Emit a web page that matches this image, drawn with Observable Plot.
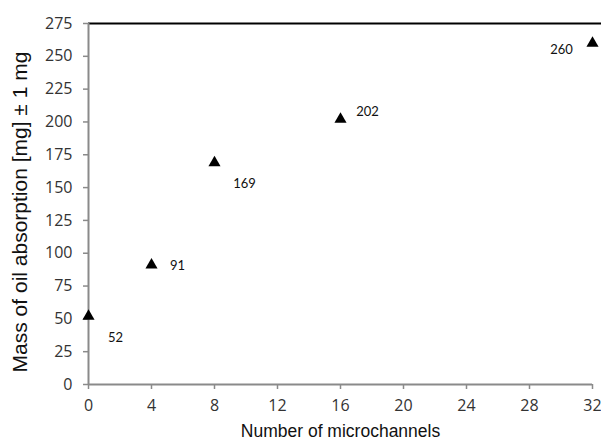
<!DOCTYPE html>
<html><head><meta charset="utf-8">
<script src="https://cdn.jsdelivr.net/npm/d3@7"></script>
<script src="https://cdn.jsdelivr.net/npm/@observablehq/plot@0.6"></script>
<style>
body{margin:0;background:#fff}
</style>
</head><body><div id="chart"></div>
<script>
const channels = [0, 4, 8, 16, 32];
const mass = [52, 91, 169, 202, 260];
const labelDx = [27, 26, 30, 27, -31];
const labelDy = [22, 1, 21, -8, 7];
const xTicks = [0, 4, 8, 12, 16, 20, 24, 28, 32];
const yTicks = [0, 25, 50, 75, 100, 125, 150, 175, 200, 225, 250, 275];

const data = channels.map((c, i) => ({x: c, y: mass[i], dx: labelDx[i], dy: labelDy[i]}));
const axisColor = "#8a8a8a";
const tickFont = "Open Sans, sans-serif";

const textMarks = data.map(d => Plot.text([d], {x: "x", y: "y", text: d => String(d.y), dx: d.dx, dy: d.dy, fontSize: 13, fill: "#111", fontFamily: "Lato, sans-serif"}));

const chart = Plot.plot({
  width: 601, height: 442,
  marginLeft: 88, marginRight: 0, marginTop: 23, marginBottom: 58,
  style: {fontFamily: tickFont, fontSize: "16px", background: "#fff", overflow: "visible"},
  x: {domain: [0, 32], range: [88, 592]},
  y: {domain: [0, 275]},
  marks: [
    Plot.ruleY([275], {stroke: "#000", strokeWidth: 2}),
    Plot.axisY({ticks: yTicks, tickSize: 5, tickPadding: 11, stroke: axisColor, strokeWidth: 1.5, fill: "#333", fontSize: 16, fontFamily: tickFont, label: null}),
    Plot.axisX({ticks: xTicks, tickSize: 5, tickPadding: 10, stroke: axisColor, strokeWidth: 1.5, fill: "#333", fontSize: 16, fontFamily: tickFont, label: null}),
    Plot.ruleX([0], {stroke: axisColor, strokeWidth: 2}),
    Plot.ruleY([0], {stroke: axisColor, strokeWidth: 2, x1: 0, x2: 32}),
    Plot.dot(data, {x: "x", y: "y", symbol: "triangle", r: 4.5, fill: "#000", stroke: "none"}),
    ...textMarks,
    Plot.text(["Number of microchannels"], {frameAnchor: "bottom", dy: 52, fontSize: 17.5, fill: "#111", fontFamily: "Liberation Sans, Arial, sans-serif", x: 16}),
    Plot.text(["Mass of oil absorption [mg] \u00b1 1 mg"], {frameAnchor: "left", dx: -68, dy: 8, rotate: -90, fontSize: 21, fill: "#111", fontFamily: "Liberation Sans, Arial, sans-serif", textAnchor: "middle"})
  ]
});
document.getElementById("chart").appendChild(chart);
</script></body></html>
